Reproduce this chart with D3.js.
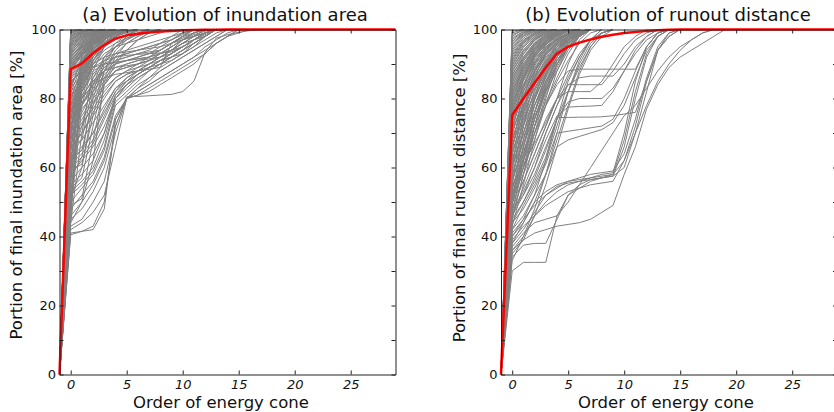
<!DOCTYPE html>
<html lang="en">
<head>
<meta charset="UTF-8">
<title>Evolution of energy cones</title>
<script src="https://d3js.org/d3.v7.min.js"></script>
<style>
  body { margin: 0; background: #fff; }
  svg { display: block; font-family: "DejaVu Sans", sans-serif; }
</style>
</head>
<body>
<div id="chart"></div>
<script>
// every series starts at order -1 (value 0), one value per order after that
const orderStart = -1;
const xTicks = [0, 5, 10, 15, 20, 25];
const yTicks = [0, 10, 20, 30, 40, 50, 60, 70, 80, 90, 100];
const yLabelTicks = [0, 20, 40, 60, 80, 100];

const titles = ["(a) Evolution of inundation area", "(b) Evolution of runout distance"];
const yLabels = ["Portion of final inundation area [%]", "Portion of final runout distance [%]"];
const xLabel = "Order of energy cone";

// mean curves (red)
const areaMean = [0, 88.5, 90.2, 93.1, 95.5, 97.4, 98.3, 98.8, 99.1, 99.4, 99.6, 99.75, 99.85, 99.9, 99.95, 100,
  100, 100, 100, 100, 100, 100, 100, 100, 100, 100, 100, 100, 100, 100, 100];
const runoutMean = [0, 75.2, 80, 84.5, 89, 93, 95, 96.2, 97.1, 97.9, 98.5, 99, 99.3, 99.6, 99.8, 99.9, 100,
  100, 100, 100, 100, 100, 100, 100, 100, 100, 100, 100, 100, 100, 100];

// individual flows (grey), panel a
const areaCurves = [
  [0, 100],
  [0, 99.8, 100],
  [0, 99.5, 100],
  [0, 99.2, 100],
  [0, 99, 100],
  [0, 98.8, 99.8, 100],
  [0, 98.5, 99.5, 100],
  [0, 98.2, 99.6, 100],
  [0, 98, 99.5, 100],
  [0, 97.8, 99.3, 100],
  [0, 97.5, 99, 100],
  [0, 97.2, 99.2, 99.8, 100],
  [0, 97, 99, 100],
  [0, 96.8, 98.8, 99.6, 100],
  [0, 96.5, 98.5, 99.5, 100],
  [0, 96.2, 98.6, 99.5, 100],
  [0, 96, 98, 99.5, 100],
  [0, 95.8, 98.3, 99.4, 100],
  [0, 95.5, 98, 99, 100],
  [0, 95.2, 97.8, 99.2, 100],
  [0, 95, 97.5, 99, 100],
  [0, 94.8, 97.6, 99, 99.8, 100],
  [0, 94.5, 97, 99, 100],
  [0, 94.2, 97.2, 98.8, 99.6, 100],
  [0, 94, 96.5, 98.5, 99.5, 100],
  [0, 93.8, 96.8, 98.7, 99.6, 100],
  [0, 93.5, 96, 98, 99.5, 100],
  [0, 93.2, 96.2, 98.4, 99.4, 100],
  [0, 93, 96.5, 98.5, 100],
  [0, 92.8, 95.8, 98.2, 99.3, 100],
  [0, 92.5, 95, 97.5, 99, 100],
  [0, 92.2, 95.6, 97.9, 99.2, 100],
  [0, 92, 95.5, 98, 99, 100],
  [0, 91.8, 95.2, 97.7, 99, 100],
  [0, 91.5, 94.5, 97, 99, 100],
  [0, 91.2, 94.8, 97.4, 98.8, 99.7, 100],
  [0, 91, 95, 97.5, 99, 99.5, 100],
  [0, 90.8, 94.6, 97.2, 98.7, 99.6, 100],
  [0, 90.5, 94, 96.5, 98.5, 99.5, 100],
  [0, 90.2, 94.2, 96.8, 98.6, 99.5, 100],
  [0, 90, 93.5, 97, 98.5, 100],
  [0, 89.8, 93.8, 96.6, 98.4, 99.4, 100],
  [0, 89.5, 93, 96, 98, 99, 100],
  [0, 89.2, 93.2, 96.4, 98.2, 99.3, 100],
  [0, 89, 94, 97, 99, 100],
  [0, 88.8, 92.8, 96.2, 98.1, 99.2, 100],
  [0, 88.5, 92.5, 96, 98, 99.5, 100],
  [0, 88.2, 92.2, 95.8, 97.8, 99, 100],
  [0, 88, 93, 96.5, 98.5, 100],
  [0, 87.5, 91.5, 95.2, 97.6, 98.9, 100],
  [0, 87, 91, 95, 98, 99, 100],
  [0, 86.5, 90.5, 94.5, 97.2, 98.7, 99.6, 100],
  [0, 86, 90, 94, 97, 99, 100],
  [0, 85.5, 89.5, 93.5, 96.5, 98.4, 99.5, 100],
  [0, 85, 88, 93, 96, 98, 99.5, 100],
  [0, 84.5, 88.5, 93, 96, 98, 99.3, 100],
  [0, 84, 89, 94, 97.5, 99, 100],
  [0, 83.5, 91, 96, 98.5, 100],
  [0, 83, 87, 92, 96, 98, 99, 100],
  [0, 82.5, 92, 97, 99, 100],
  [0, 82, 86, 91, 95, 97, 98.5, 99.5, 100],
  [0, 81.5, 90, 95.5, 98.5, 100],
  [0, 81, 84, 90, 94, 96, 97.5, 98.5, 99.5, 100],
  [0, 80.5, 88, 94, 97.5, 99.5, 100],
  [0, 80, 83, 89, 93, 95, 96, 97, 98, 99, 100],
  [0, 79.5, 89, 95, 98, 100],
  [0, 79, 82, 87, 91, 93, 94, 95, 96, 97, 98, 99, 100],
  [0, 78.5, 87, 93, 97, 99, 100],
  [0, 78, 81, 85, 89, 92, 93, 94, 95, 96, 97, 98.5, 100],
  [0, 77.5, 88, 94.5, 98, 100],
  [0, 77, 80, 84, 88, 91, 92, 93, 93.5, 94, 96, 98, 100],
  [0, 76.5, 86, 92, 96, 98.5, 100],
  [0, 76, 80, 86, 90, 92, 93, 94, 95, 96, 97, 99, 100],
  [0, 75.5, 87, 93.5, 97, 99, 100],
  [0, 75, 79, 82, 86, 89, 90, 91, 91.5, 92, 93, 95, 97, 99, 100],
  [0, 74.5, 85, 91, 95, 98, 100],
  [0, 74, 78, 83, 88, 90, 91, 92, 93, 94, 96, 98, 100],
  [0, 73.5, 90, 96, 99, 100],
  [0, 73, 77, 81, 85, 88, 89, 90, 91, 92, 94, 97, 99, 100],
  [0, 72, 78, 84, 89, 91, 92, 93, 94, 96, 98, 100],
  [0, 71.5, 88, 95, 98.5, 100],
  [0, 71, 75, 80, 84, 88, 89, 90, 91, 93, 95, 97, 98, 99, 100],
  [0, 70, 76, 82, 87, 90, 91, 92, 93, 95, 97, 99, 100],
  [0, 69.5, 86, 93, 97, 99, 100],
  [0, 69, 74, 79, 83, 86, 88, 89, 90, 91, 92, 94, 97, 99, 100],
  [0, 68, 73, 77, 82, 86, 88, 90, 92, 94, 96, 98, 100],
  [0, 67.5, 91, 97, 100],
  [0, 67, 72, 78, 84, 88, 90, 91, 92, 93, 94, 95, 97, 99, 100],
  [0, 66, 70, 75, 80, 85, 87, 88, 89, 90, 91, 93, 96, 98, 100],
  [0, 65, 70, 76, 81, 85, 87, 89, 91, 93, 95, 97, 99, 100],
  [0, 64.5, 87, 95, 98.5, 100],
  [0, 64, 68, 73, 78, 83, 85, 87, 89, 91, 93, 95, 97, 99, 100],
  [0, 63, 66, 70, 76, 82, 86, 88, 90, 92, 94, 96, 98, 100],
  [0, 62, 65, 70, 77, 83, 86, 88, 90, 92, 94, 96, 97, 98, 100],
  [0, 61, 64, 68, 75, 82, 85, 87, 89, 91, 92, 93, 95, 98, 100],
  [0, 60, 63, 67, 74, 81, 84, 86, 88, 90, 92, 94, 96, 98, 100],
  [0, 58.5, 86, 94, 98, 100],
  [0, 58, 62, 66, 72, 80, 83, 86, 88, 90, 92, 94, 96, 98, 100],
  [0, 56, 60, 64, 70, 80, 84, 87, 89, 91, 93, 95, 97, 99, 100],
  [0, 55, 58, 62, 70, 81, 85, 88, 90, 92, 94, 96, 98, 100],
  [0, 53, 56, 60, 68, 80, 84, 87, 89, 91, 93, 95, 97, 99, 100],
  [0, 52.5, 83, 92, 97, 99, 100],
  [0, 52, 55, 59, 66, 79, 82, 85, 88, 90, 92, 94, 96, 98, 100],
  [0, 50, 54, 58, 65, 78, 81, 84, 86, 89, 91, 93, 95, 97, 99, 100],
  [0, 48.5, 82, 91, 96, 99, 100],
  [0, 48, 52, 56, 63, 75, 80, 83, 86, 88, 90, 92, 94, 96, 98, 100],
  [0, 46, 50, 55, 62, 74, 80, 83, 85, 88, 90, 92, 94, 96, 98, 100],
  [0, 45, 48, 53, 60, 72, 80, 82, 84, 86, 88, 90, 92, 94, 96, 98, 99, 100],
  [0, 43, 45, 50, 56, 70, 80, 82, 84, 86, 88, 90, 92, 95, 97, 99, 100],
  [0, 42, 44, 47, 52, 66, 80, 81, 83, 85, 87, 89, 91, 93, 96, 98, 100],
  [0, 41, 41.5, 42, 48, 74, 80, 81, 82, 84, 86, 88, 90, 93, 96, 98, 100],
  [0, 40.5, 41.5, 43, 50, 72, 80.5, 80.6, 80.8, 81, 81.2, 82, 85, 93.4, 97.5, 98.5, 99.2, 99.7, 100],
  [0, 45, 88, 95, 99, 100],
  [0, 50, 85, 94, 98, 100],
  [0, 55, 90, 97, 100],
  [0, 60, 92, 98, 100],
  [0, 65, 89, 96, 99, 100],
  [0, 70, 93, 98, 100],
  [0, 62, 84, 93, 97, 99, 100],
  [0, 57, 80, 91, 96, 99, 100],
  [0, 47, 78, 90, 95, 98, 100],
  [0, 44, 70, 88, 95, 98, 100],
  [0, 59, 61, 75, 88, 94, 97, 99, 100],
  [0, 54, 57, 72, 86, 92, 96, 98, 100],
  [0, 49, 51, 68, 84, 90, 94, 97, 99, 100],
  [0, 63, 65, 80, 90, 95, 98, 100],
  [0, 66, 68, 84, 92, 96, 98.5, 100],
  [0, 51, 60, 78, 88, 93, 96, 98, 99.5, 100],
  [0, 57, 63, 82, 91, 95, 97.5, 99, 100],
  [0, 44, 50, 62, 85, 91, 94, 97, 99, 100],
  [0, 61, 72, 86, 92, 95, 97, 98.5, 100],
  [0, 80, 86, 90, 92, 93, 93.5, 94, 94.5, 95, 96, 97, 98, 99, 100],
  [0, 76, 84, 89, 91, 92, 92.5, 92.8, 93, 93.2, 93.5, 95, 97, 98.5, 100],
  [0, 72, 82, 88, 90, 90.5, 91, 91.5, 92, 94, 96, 97.5, 99, 100],
  [0, 78, 85, 89, 90, 90.5, 91, 91.5, 92, 93, 94, 96, 98, 99, 100],
  [0, 74, 80, 84, 86, 87, 87.5, 88, 88.5, 89, 96, 98, 99, 100],
  [0, 68, 78, 85, 88, 89, 89.5, 90, 91, 93, 95, 97, 98.5, 99.5, 100]
];

// individual flows (grey), panel b
const runoutCurves = [
  [0, 100],
  [0, 99.5, 100],
  [0, 99, 100],
  [0, 98.5, 99.8, 100],
  [0, 98, 100],
  [0, 97.5, 99.5, 100],
  [0, 97, 99.5, 100],
  [0, 96.5, 99.2, 100],
  [0, 96, 99, 100],
  [0, 95.5, 98.8, 99.8, 100],
  [0, 95, 98.5, 100],
  [0, 94.5, 98.2, 99.6, 100],
  [0, 94, 98, 99.5, 100],
  [0, 93.5, 97.5, 99.4, 100],
  [0, 93, 97, 99, 100],
  [0, 92.5, 96.8, 99, 100],
  [0, 92, 96.5, 99, 100],
  [0, 91.5, 96.2, 98.8, 99.8, 100],
  [0, 91, 96, 98.5, 100],
  [0, 90.5, 95.5, 98.4, 99.6, 100],
  [0, 90, 95, 98, 99.5, 100],
  [0, 89.5, 94.8, 98, 99.5, 100],
  [0, 89, 94, 97.5, 99, 100],
  [0, 88.5, 94, 97.6, 99.3, 100],
  [0, 88, 93, 97, 99, 100],
  [0, 87.5, 93.5, 97.2, 99, 100],
  [0, 87, 92, 96, 98.5, 100],
  [0, 86.5, 92.8, 96.8, 98.8, 100],
  [0, 86, 91.5, 95.5, 98, 99.5, 100],
  [0, 85.5, 92, 96.2, 98.6, 99.7, 100],
  [0, 85, 91, 95, 98, 99.5, 100],
  [0, 84.5, 91.5, 95.8, 98.3, 99.6, 100],
  [0, 84, 90, 94.5, 97.5, 99, 100],
  [0, 83.5, 90.8, 95.4, 98, 99.5, 100],
  [0, 83, 89, 94, 97, 99, 100],
  [0, 82.5, 90, 95, 97.8, 99.4, 100],
  [0, 82, 88.5, 93.5, 97, 99, 100],
  [0, 81.5, 89.5, 94.6, 97.6, 99.2, 100],
  [0, 81, 88, 93, 96.5, 98.5, 100],
  [0, 80.5, 89, 94.2, 97.4, 99, 100],
  [0, 80, 87, 92.5, 96, 98.5, 99.5, 100],
  [0, 79.5, 88.5, 93.8, 97, 98.8, 99.8, 100],
  [0, 79, 86, 92, 95.5, 98, 99.5, 100],
  [0, 78.5, 87.5, 93.2, 96.6, 98.6, 99.7, 100],
  [0, 78, 85.5, 91.5, 95, 97.5, 99, 100],
  [0, 77.5, 87, 92.8, 96.4, 98.4, 99.6, 100],
  [0, 77, 85, 91, 95, 97.5, 99, 100],
  [0, 76.5, 86.5, 92.4, 96, 98.2, 99.5, 100],
  [0, 76, 84, 90.5, 94.5, 97, 99, 100],
  [0, 75.5, 85.8, 92, 95.8, 98, 99.4, 100],
  [0, 75, 83.5, 90, 94, 97, 98.5, 100],
  [0, 74, 83, 89, 93, 96, 98, 99.5, 100],
  [0, 73.5, 84, 90.5, 94.5, 97.2, 98.8, 100],
  [0, 73, 82, 88, 92.5, 96, 98, 99.5, 100],
  [0, 72, 81, 88, 93, 96.5, 98.5, 100],
  [0, 71.5, 82, 89.5, 94, 97, 98.8, 100],
  [0, 70, 80, 87, 92, 95.5, 98, 99.5, 100],
  [0, 70, 86, 93, 97, 99, 100],
  [0, 69.5, 80.5, 88.5, 93.5, 96.8, 98.6, 100],
  [0, 68, 78, 86, 91, 95, 97.5, 99, 100],
  [0, 67.5, 79, 87.5, 93, 96.5, 98.5, 100],
  [0, 66, 77, 85, 91, 95, 97, 99, 100],
  [0, 65.5, 77.5, 86.5, 92.5, 96, 98.2, 99.5, 100],
  [0, 65, 83, 92, 96.5, 99, 100],
  [0, 64, 75, 84, 90, 94, 97, 99, 100],
  [0, 63.5, 76, 85.5, 91.5, 95.5, 98, 99.5, 100],
  [0, 62, 73, 82, 89, 94, 97, 99, 100],
  [0, 61.5, 74, 84, 90.5, 95, 97.8, 99.4, 100],
  [0, 60, 70, 80, 87, 92, 96, 98.5, 100],
  [0, 60, 80, 90, 95.5, 98.5, 100],
  [0, 59.5, 72, 82.5, 89.5, 94.5, 97.5, 99.3, 100],
  [0, 58, 68, 78, 86, 92, 96, 99, 100],
  [0, 57.5, 70, 81, 88.5, 94, 97.2, 99.2, 100],
  [0, 56, 66, 76, 85, 91, 95, 98, 100],
  [0, 55.5, 68, 79.5, 87.5, 93.5, 97, 99, 100],
  [0, 55, 76, 88, 94.5, 98, 100],
  [0, 54, 64, 74, 83, 90, 95, 98, 100],
  [0, 53.5, 66, 78, 86.5, 93, 96.8, 99, 100],
  [0, 52, 62, 72, 82, 90, 95, 98, 100],
  [0, 51.5, 64, 76, 85, 92, 96.5, 98.8, 100],
  [0, 50, 72, 86, 93.5, 97.5, 100],
  [0, 49.5, 62, 74, 84, 91, 96, 98.6, 100],
  [0, 47.5, 60, 72, 82.5, 90, 95.5, 98.5, 100],
  [0, 45.5, 58, 70, 81, 89, 95, 98.2, 100],
  [0, 43, 55, 68, 80, 90, 96, 99, 100],
  [0, 45, 58, 72, 84, 92, 97, 99, 100],
  [0, 47, 62, 76, 87, 94, 98, 100],
  [0, 49, 66, 80, 90, 96, 99, 100],
  [0, 51, 63, 74, 83, 90, 95, 98, 100],
  [0, 53, 60, 68, 78, 88, 95, 99, 100],
  [0, 55, 61, 67, 73, 80, 90, 97, 100],
  [0, 57, 65, 72, 79, 86, 93, 98, 100],
  [0, 59, 67, 75, 82, 88, 94, 98, 100],
  [0, 61, 70, 78, 85, 91, 96, 99, 100],
  [0, 63, 69, 76, 84, 90, 95, 98, 100],
  [0, 65, 72, 80, 87, 93, 97, 99, 100],
  [0, 67, 74, 81, 88, 94, 98, 100],
  [0, 69, 76, 83, 89, 94, 97, 99, 100],
  [0, 71, 78, 84, 90, 95, 98, 100],
  [0, 44, 50, 57, 65, 74, 82, 89, 95, 99, 100],
  [0, 46, 54, 62, 70, 78, 86, 92, 97, 100],
  [0, 42, 49, 55, 62, 72, 82, 90, 96, 99, 100],
  [0, 48, 56, 64, 72, 80, 87, 93, 97, 99, 100],
  [0, 54, 62, 70, 78, 85, 91, 96, 99, 100],
  [0, 40, 45, 52, 62, 74, 85, 92, 97, 99, 100],
  [0, 38, 44, 50, 58, 68, 78, 88, 95, 99, 100],
  [0, 36, 40, 46, 55, 66, 77, 87, 94, 98, 100],
  [0, 33, 40, 48, 58, 70, 82, 91, 97, 100],
  [0, 50, 60, 70, 78, 84, 88, 88.5, 88.5, 88.5, 88.5, 88.5, 88.5, 95, 99, 100],
  [0, 48, 52, 60, 70, 78, 84, 86, 86.5, 86.5, 86.5, 90, 95, 98, 100],
  [0, 50, 56, 64, 72, 80, 84, 84, 84, 84, 88, 93, 97, 99, 100],
  [0, 52, 58, 66, 74, 80, 82, 82, 82, 85, 90, 95, 98, 100],
  [0, 46, 52, 58, 66, 74, 79, 80, 80, 80, 83, 88, 93, 97, 99, 100],
  [0, 47, 53, 60, 68, 75, 77.5, 77.7, 77.8, 78, 82, 88, 94, 98, 100],
  [0, 45, 50, 56, 63, 74.5, 74.5, 74.6, 74.6, 74.7, 75, 75.5, 76, 85, 94, 98, 100],
  [0, 44, 48, 54, 61, 70, 70.5, 71, 71.5, 72, 74, 80, 88, 95, 99, 100],
  [0, 42, 46, 52, 58, 66, 68, 69, 70, 71, 73, 78, 86, 94, 98, 100],
  [0, 40, 44, 50, 53, 55, 56, 56.5, 57, 57.5, 58, 62, 72, 85, 94, 98, 100],
  [0, 38, 42, 47, 52, 54.5, 55.5, 56, 56.5, 57, 57.5, 66, 80, 92, 98, 100],
  [0, 36, 39, 46, 50, 53, 55, 56, 57, 58, 58.5, 70, 85, 95, 99, 100],
  [0, 41, 45, 49, 52, 54, 56, 57, 58, 58.5, 59, 64, 74, 86, 95, 99, 100],
  [0, 34, 37.5, 38, 38, 45, 52, 55, 56.5, 57, 58, 68, 82, 93, 98, 100],
  [0, 30, 32.5, 32.5, 32.5, 46, 52, 54, 56, 57, 57.5, 60, 70, 82, 94, 99, 100],
  [0, 35, 39, 41, 42, 43, 43.5, 44, 45, 47, 49, 58, 66, 77, 84, 89, 92, 94, 96, 98, 100],
  [0, 37, 41, 44, 45, 46, 50, 55, 60, 65, 70, 75, 78, 83, 88, 92, 95, 97, 99, 100],
  [0, 39, 43, 46, 49, 51, 53, 54, 55, 55.5, 56, 62, 70, 78, 85, 90, 94, 97, 99, 100]
];

const W = 834, H = 412;
const plotTop = 29.5, plotBottom = 374.5;
const svg = d3.select("#chart").append("svg").attr("width", W).attr("height", H);

const panels = [
  { left: 59.5, right: 395.5, curves: areaCurves, mean: areaMean, title: titles[0], ylab: yLabels[0],
    titleX: 225, xlabX: 221, ylabX: 22, ylabY: 195 },
  { left: 501, right: 837, curves: runoutCurves, mean: runoutMean, title: titles[1], ylab: yLabels[1],
    titleX: 668, xlabX: 666, ylabX: 465, ylabY: 198 }
];

panels.forEach(p => {
  const x = d3.scaleLinear().domain([-1, 29]).range([p.left, p.right]);
  const y = d3.scaleLinear().domain([0, 100]).range([plotBottom, plotTop]);
  const g = svg.append("g");

  const line = d3.line()
    .x((d, i) => x(orderStart + i))
    .y(d => y(d));

  g.append("g").selectAll("path")
    .data(p.curves)
    .join("path")
    .attr("d", line)
    .attr("fill", "none")
    .attr("stroke", "#808080")
    .attr("stroke-width", 1);

  g.append("path")
    .datum(p.mean)
    .attr("d", line)
    .attr("fill", "none")
    .attr("stroke", "#ff0000")
    .attr("stroke-width", 2.5)
    .attr("stroke-linejoin", "round");

  // axes, ticks pointing inward like matplotlib classic
  const xb = g.append("g").attr("transform", `translate(0,${plotBottom})`)
    .call(d3.axisBottom(x).tickValues(xTicks).tickSize(-4).tickSizeOuter(0).tickPadding(5));
  const xt = g.append("g").attr("transform", `translate(0,${plotTop})`)
    .call(d3.axisTop(x).tickValues(xTicks).tickSize(-4).tickSizeOuter(0).tickFormat(""));
  const yl = g.append("g").attr("transform", `translate(${p.left},0)`)
    .call(d3.axisLeft(y).tickValues(yTicks).tickSize(-4).tickSizeOuter(0).tickPadding(3.5)
      .tickFormat(d => yLabelTicks.includes(d) ? d : ""));
  const yr = g.append("g").attr("transform", `translate(${p.right},0)`)
    .call(d3.axisRight(y).tickValues(yTicks).tickSize(-4).tickSizeOuter(0).tickFormat(""));

  [xb, xt, yl, yr].forEach(a => {
    a.selectAll(".domain").attr("stroke", "#222").attr("stroke-width", 1);
    a.selectAll(".tick line").attr("stroke", "#222");
    a.selectAll("text").attr("font-family", "DejaVu Sans").attr("font-size", 13).attr("fill", "#111");
  });
  xb.selectAll("text").attr("font-style", "italic");

  g.append("text")
    .attr("x", p.titleX).attr("y", 21)
    .attr("text-anchor", "middle")
    .attr("font-size", 18).attr("fill", "#111")
    .text(p.title);

  g.append("text")
    .attr("x", p.xlabX).attr("y", 408)
    .attr("text-anchor", "middle")
    .attr("font-size", 16.5).attr("fill", "#111")
    .text(xLabel);

  g.append("text")
    .attr("transform", `translate(${p.ylabX},${p.ylabY}) rotate(-90)`)
    .attr("text-anchor", "middle")
    .attr("font-size", 16.5).attr("fill", "#111")
    .text(p.ylab);
});
</script>
</body>
</html>
